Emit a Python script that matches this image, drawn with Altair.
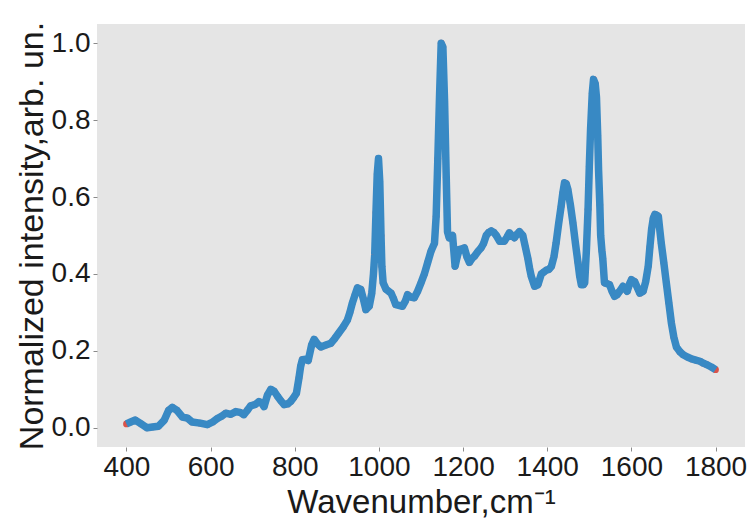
import altair as alt
import pandas as pd

wavenumber = [400, 410, 421, 435, 449, 462, 476, 490, 500, 509, 520, 533, 545, 556, 575, 592,
              605, 616, 626, 636, 648, 660, 670, 679, 687, 695, 705, 715, 721, 727, 735, 743,
              751, 759, 767, 775, 783, 790, 797, 804, 810, 814, 818, 826, 832, 840, 846, 854,
              862, 874, 886, 895, 905, 915, 925, 931, 937, 943, 949, 957, 963, 969, 977, 983,
              987, 990, 993, 996, 999, 1002, 1005, 1007, 1010, 1017, 1029, 1035, 1040, 1056,
              1063, 1068, 1076, 1084, 1092, 1100, 1108, 1116, 1124, 1132, 1136, 1140, 1144,
              1148, 1152, 1156, 1160, 1163, 1167, 1175, 1181, 1186, 1191, 1197, 1203, 1209,
              1215, 1221, 1227, 1235, 1243, 1249, 1255, 1261, 1267, 1273, 1279, 1287, 1298,
              1305, 1310, 1316, 1322, 1328, 1334, 1342, 1348, 1354, 1358, 1362, 1370, 1378,
              1386, 1392, 1398, 1404, 1410, 1416, 1421, 1427, 1433, 1437, 1441, 1445, 1449,
              1455, 1461, 1467, 1473, 1477, 1481, 1486, 1489, 1493, 1497, 1500, 1503, 1507,
              1510, 1514, 1517, 1520, 1522, 1525, 1527, 1530, 1532, 1536, 1542, 1548, 1554,
              1560, 1566, 1572, 1580, 1586, 1590, 1596, 1600, 1608, 1614, 1620, 1628, 1634,
              1640, 1644, 1648, 1652, 1656, 1660, 1664, 1667, 1671, 1677, 1683, 1689, 1695,
              1701, 1707, 1715, 1723, 1733, 1743, 1753, 1763, 1771, 1779, 1790, 1800]

intensity = [0.010, 0.015, 0.020, 0.010, 0.000, 0.002, 0.004, 0.020, 0.045, 0.053, 0.045, 0.028,
             0.025, 0.015, 0.012, 0.008, 0.015, 0.024, 0.030, 0.038, 0.035, 0.042, 0.040, 0.034,
             0.045, 0.057, 0.060, 0.068, 0.065, 0.055, 0.085, 0.100, 0.095, 0.082, 0.070, 0.060,
             0.062, 0.068, 0.078, 0.090, 0.130, 0.160, 0.177, 0.178, 0.175, 0.215, 0.230, 0.218,
             0.210, 0.215, 0.220, 0.232, 0.247, 0.262, 0.280, 0.300, 0.325, 0.345, 0.364, 0.360,
             0.335, 0.307, 0.316, 0.350, 0.400, 0.450, 0.560, 0.660, 0.700, 0.640, 0.500, 0.420,
             0.377, 0.360, 0.350, 0.335, 0.320, 0.316, 0.330, 0.346, 0.340, 0.338, 0.355, 0.377,
             0.400, 0.430, 0.460, 0.480, 0.550, 0.700, 0.860, 1.000, 0.990, 0.850, 0.650, 0.510,
             0.494, 0.500, 0.420, 0.445, 0.464, 0.465, 0.468, 0.445, 0.430, 0.440, 0.446, 0.458,
             0.468, 0.480, 0.500, 0.508, 0.512, 0.508, 0.500, 0.485, 0.485, 0.497, 0.507, 0.500,
             0.494, 0.503, 0.510, 0.500, 0.470, 0.440, 0.415, 0.394, 0.368, 0.372, 0.400, 0.405,
             0.410, 0.412, 0.420, 0.445, 0.480, 0.530, 0.576, 0.610, 0.637, 0.635, 0.620, 0.580,
             0.533, 0.480, 0.430, 0.395, 0.372, 0.372, 0.377, 0.460, 0.568, 0.680, 0.776, 0.870,
             0.906, 0.895, 0.860, 0.760, 0.670, 0.580, 0.500, 0.460, 0.440, 0.377, 0.375, 0.372,
             0.355, 0.342, 0.346, 0.355, 0.368, 0.360, 0.355, 0.375, 0.385, 0.380, 0.365, 0.350,
             0.355, 0.380, 0.420, 0.470, 0.516, 0.545, 0.555, 0.553, 0.550, 0.520, 0.480, 0.430,
             0.377, 0.325, 0.273, 0.235, 0.210, 0.198, 0.190, 0.184, 0.179, 0.176, 0.173, 0.168,
             0.164, 0.158, 0.151]

x_ticks = [400, 600, 800, 1000, 1200, 1400, 1600, 1800]
y_ticks = [0.0, 0.2, 0.4, 0.6, 0.8, 1.0]

df = pd.DataFrame({"w": wavenumber, "v": intensity})

FONT = "Liberation Sans"

x_enc = alt.X("w:Q",
              scale=alt.Scale(domain=[330, 1870], nice=False, zero=False),
              axis=alt.Axis(values=x_ticks, format="d", title="Wavenumber,cm\u207b\u00b9",
                            grid=False, domain=False, tickColor="#8a8a8a", tickSize=4,
                            labelFontSize=28, labelFont=FONT, labelColor="#1a1a1a",
                            labelPadding=2, titleFontSize=33, titleFont=FONT,
                            titleFontWeight="normal", titleColor="#1a1a1a", titlePadding=5,
                            labelFlush=False))
y_enc = alt.Y("v:Q",
              scale=alt.Scale(domain=[-0.05, 1.05], nice=False, zero=False),
              axis=alt.Axis(values=y_ticks, format=".1f",
                            title="Normalized intensity,arb. un.",
                            grid=False, domain=False, tickColor="#8a8a8a", tickSize=4,
                            labelFontSize=28, labelFont=FONT, labelColor="#1a1a1a",
                            labelPadding=3, titleFontSize=34, titleFont=FONT,
                            titleFontWeight="normal", titleColor="#1a1a1a", titlePadding=2,
                            labelFlush=False))

pts = alt.Chart(df).mark_circle(color="#d9534a", size=45, opacity=1).encode(x=x_enc, y=y_enc)
line = alt.Chart(df).mark_line(color="#3889c4", strokeWidth=7.5, strokeJoin="round",
                               strokeCap="butt").encode(x=x_enc, y=y_enc)

chart = alt.layer(pts, line).properties(
    width=648, height=423,
    autosize=alt.AutoSizeParams(type="none"),
    padding={"left": 97, "top": 24, "right": 5, "bottom": 72},
    background="white",
).configure_view(fill="#e5e5e5", stroke=None)

chart.save("out.html", embed_options={"renderer": "svg", "actions": False})
